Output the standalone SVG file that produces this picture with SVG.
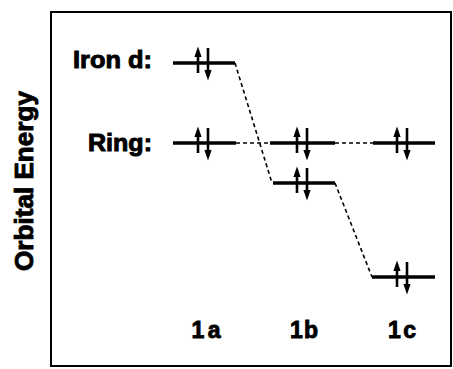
<svg xmlns="http://www.w3.org/2000/svg" width="453" height="369" viewBox="0 0 453 369">
<style>
.lvl{stroke:#000;stroke-width:3.6;fill:none;stroke-linecap:butt}
.dash{stroke:#000;stroke-width:1.6;fill:none;stroke-dasharray:4 3}
.lbl{font-family:"Liberation Sans",Arial,sans-serif;font-weight:bold;fill:#000;stroke:#000;stroke-width:0.9}
.frame{fill:none;stroke:#000;stroke-width:2}
.sh{stroke:#000;stroke-width:2.6;fill:none}
</style>
<defs>
<g id="pair">
<line class="sh" x1="0" y1="-8" x2="0" y2="10"/>
<polygon points="0,-16.5 -3.6,-6 3.6,-6" fill="#000"/>
<line class="sh" x1="10" y1="-15" x2="10" y2="8"/>
<polygon points="10,17.5 6.4,7 13.6,7" fill="#000"/>
</g>
</defs>
<rect class="frame" x="51" y="12" width="400" height="354"/>
<text class="lbl" font-size="26" transform="translate(33,181) rotate(-90)" text-anchor="middle" textLength="180" lengthAdjust="spacingAndGlyphs">Orbital Energy</text>
<text class="lbl" font-size="23" x="152" y="68" text-anchor="end" textLength="79" lengthAdjust="spacingAndGlyphs">Iron d:</text>
<text class="lbl" font-size="23" x="152" y="151" text-anchor="end" textLength="64" lengthAdjust="spacingAndGlyphs">Ring:</text>
<g id="connectors">
<line class="dash" x1="235" y1="63" x2="272" y2="183"/>
<line class="dash" x1="236" y1="143" x2="270" y2="143"/>
<line class="dash" x1="335" y1="143" x2="373" y2="143"/>
<line class="dash" x1="335" y1="183" x2="372" y2="277"/>
</g>
<g id="iron-1a"><line class="lvl" x1="173" y1="63" x2="235" y2="63"/><use href="#pair" transform="translate(198,63)"/></g>
<g id="ring-1a"><line class="lvl" x1="173" y1="143" x2="236" y2="143"/><use href="#pair" transform="translate(198,143)"/></g>
<g id="ring-1b"><line class="lvl" x1="270" y1="143" x2="335" y2="143"/><use href="#pair" transform="translate(297,143)"/></g>
<g id="iron-1b"><line class="lvl" x1="273" y1="183" x2="335" y2="183"/><use href="#pair" transform="translate(297,183)"/></g>
<g id="ring-1c"><line class="lvl" x1="373" y1="143" x2="435" y2="143"/><use href="#pair" transform="translate(397,143)"/></g>
<g id="iron-1c"><line class="lvl" x1="372" y1="277" x2="435" y2="277"/><use href="#pair" transform="translate(397,277)"/></g>
<text class="lbl" font-size="23" x="206" y="338" text-anchor="middle" textLength="29" lengthAdjust="spacing">1a</text>
<text class="lbl" font-size="23" x="304" y="338" text-anchor="middle" textLength="28" lengthAdjust="spacing">1b</text>
<text class="lbl" font-size="23" x="402" y="338" text-anchor="middle" textLength="28" lengthAdjust="spacing">1c</text>
</svg>
